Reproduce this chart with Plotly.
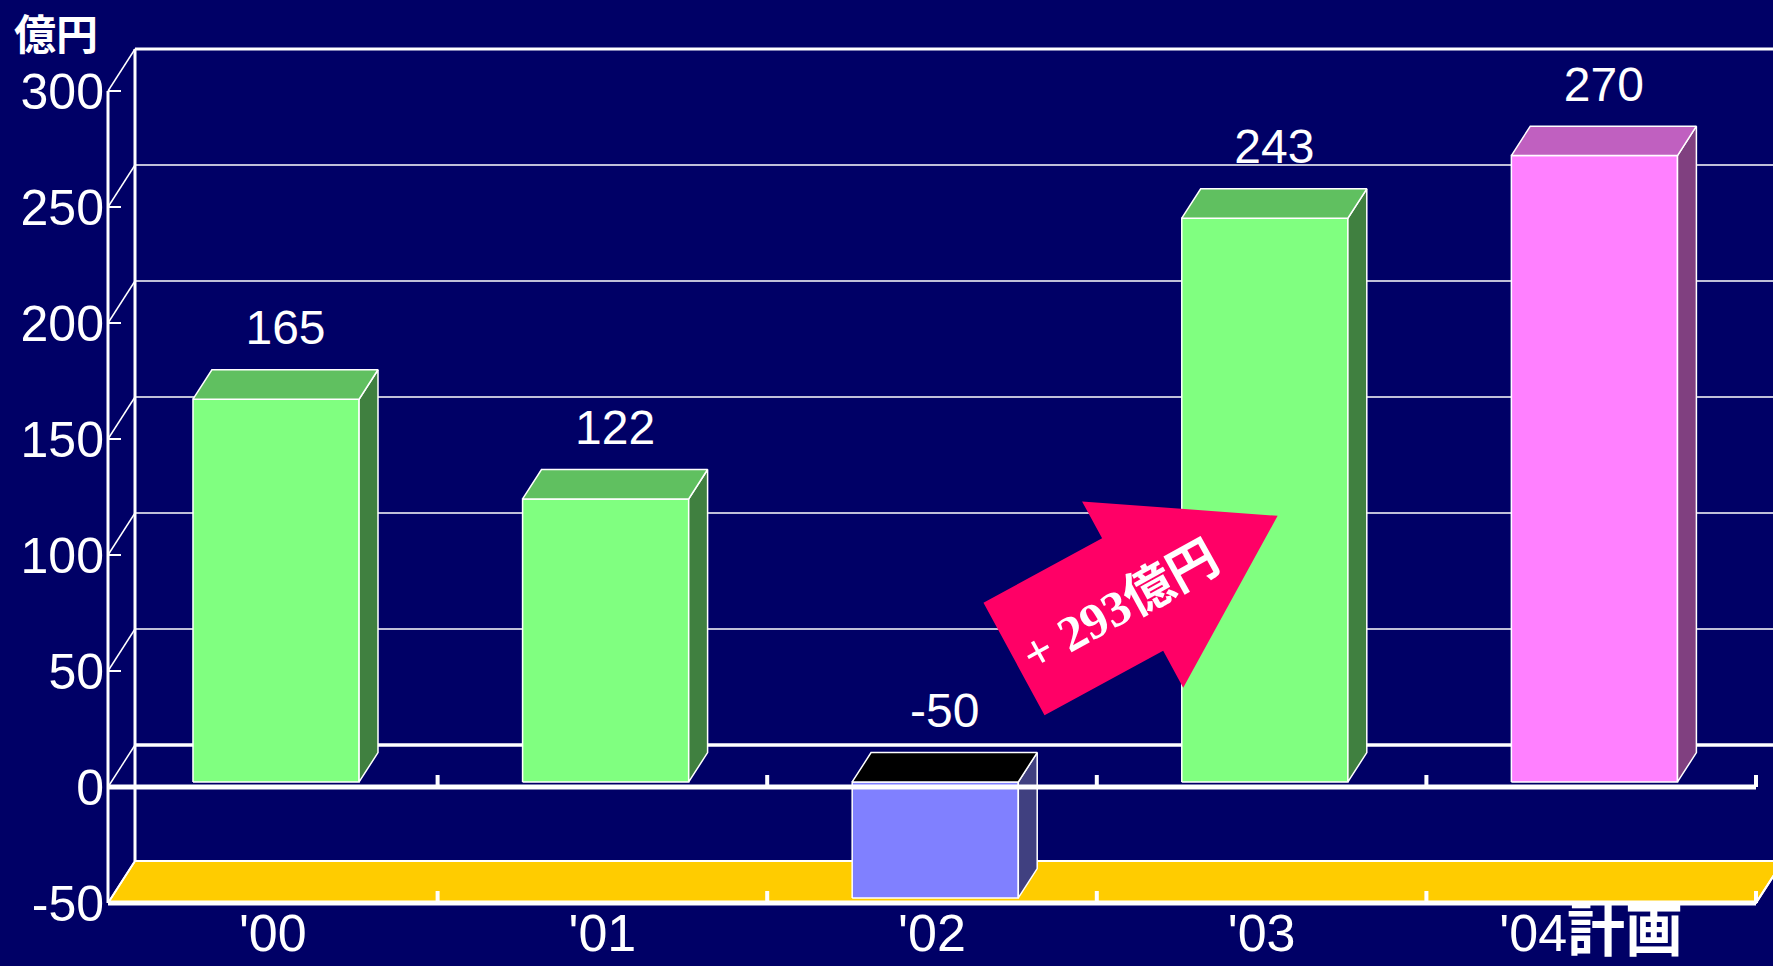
import math
import plotly.graph_objects as go

# ---- data -------------------------------------------------------------
categories = ["'00", "'01", "'02", "'03", "'04計画"]
values = [165, 122, -50, 243, 270]
y_ticks = [-50, 0, 50, 100, 150, 200, 250, 300]
unit_label = "億円"

front_colors = ["#80FF80", "#80FF80", "#8080FF", "#80FF80", "#FF80FF"]
top_colors = ["#60C060", "#60C060", "#000000", "#60C060", "#C060C0"]
side_colors = ["#408040", "#408040", "#404080", "#408040", "#804080"]

# ---- style ------------------------------------------------------------
BG = "#000066"
FLOOR = "#FFCC00"
ARROW = "#FF0066"
WHITE = "#FFFFFF"
SANS = "Liberation Sans, Arial, sans-serif"
CJK = "Noto Sans CJK JP, sans-serif"

W, H = 1773, 966
PX_PER_CAT = 329.6      # pixels per category slot
PX_PER_UNIT = 2.32      # pixels per 億円
AXIS_LEFT_PX = 108      # front value axis
ZERO_PX = 787           # front zero line

X0, X1 = -0.5, len(categories) - 0.5
Y_MIN, Y_MAX = min(y_ticks), max(y_ticks)
x_range = [X0 - AXIS_LEFT_PX / PX_PER_CAT, X0 + (W - AXIS_LEFT_PX) / PX_PER_CAT]
y_range = [-(H - ZERO_PX) / PX_PER_UNIT, ZERO_PX / PX_PER_UNIT]
floor_px = ZERO_PX - Y_MIN * PX_PER_UNIT
CAT_LABEL_PX = floor_px - 5   # baseline band for the category names

# perspective offset from the front plane to the back wall (data units)
DX = 27 / PX_PER_CAT
DY = 42 / PX_PER_UNIT

# bar geometry (fractions of the depth, half width in category units)
F0, F1 = 0.12, 0.82
HW = 0.252
LABEL_PAD = 31


def depth(x, y, f):
    return x + f * DX, y + f * DY


fig = go.Figure()


def add_line(xs, ys, width, color=WHITE):
    fig.add_trace(go.Scatter(x=xs, y=ys, mode="lines",
                             line=dict(color=color, width=width),
                             hoverinfo="skip", showlegend=False))


def add_poly(pts, fill, width=1.5, outline=WHITE):
    xs = [p[0] for p in pts] + [pts[0][0]]
    ys = [p[1] for p in pts] + [pts[0][1]]
    fig.add_trace(go.Scatter(x=xs, y=ys, mode="lines", fill="toself",
                             fillcolor=fill,
                             line=dict(color=outline, width=width),
                             hoverinfo="skip", showlegend=False))


# ---- floor ------------------------------------------------------------
add_poly([(X0, Y_MIN), (X1, Y_MIN), depth(X1, Y_MIN, 1), depth(X0, Y_MIN, 1)],
         FLOOR, width=2)

# ---- back wall gridlines ---------------------------------------------
for v in y_ticks:
    bx0, by = depth(X0, v, 1)
    bx1, _ = depth(X1, v, 1)
    w = 3.5 if v == 0 else (3 if v == Y_MAX else (2 if v == Y_MIN else 1.5))
    add_line([bx0, bx1], [by, by], w)

# ---- side wall ----------------------------------------------------------
bx, by_lo = depth(X0, Y_MIN, 1)
_, by_hi = depth(X0, Y_MAX, 1)
add_line([bx, bx], [by_lo, by_hi], 3)
for v in y_ticks:
    bx, by = depth(X0, v, 1)
    add_line([X0, bx], [v, by], 1.5)

# front value axis
add_line([X0, X0], [Y_MIN, Y_MAX], 3)

# ---- bars ---------------------------------------------------------------
for i, v in enumerate(values):
    lo, hi = min(v, 0), max(v, 0)
    xl, xr = i - HW, i + HW
    front = [depth(xl, lo, F0), depth(xr, lo, F0), depth(xr, hi, F0), depth(xl, hi, F0)]
    top = [depth(xl, hi, F0), depth(xr, hi, F0), depth(xr, hi, F1), depth(xl, hi, F1)]
    side = [depth(xr, lo, F0), depth(xr, lo, F1), depth(xr, hi, F1), depth(xr, hi, F0)]
    add_poly(front, front_colors[i])
    add_poly(side, side_colors[i])
    add_poly(top, top_colors[i])

# ---- front floor edges with category ticks -------------------------------
tick_h = 12 / PX_PER_UNIT
for base in (0, Y_MIN):
    add_line([X0, X1], [base, base], 5)
    for k in range(len(categories)):
        xb = k + 0.5
        add_line([xb, xb], [base, base + tick_h], 4)
# right edge of the floor
xr_back, yr_back = depth(X1, Y_MIN, 1)
add_line([X1, xr_back], [Y_MIN, yr_back], 2)

# ---- value labels -------------------------------------------------------
fm = (F0 + F1) / 2
fig.add_trace(go.Scatter(
    x=[i + fm * DX for i in range(len(values))],
    y=[max(v, 0) + LABEL_PAD for v in values],
    mode="text", text=[str(v) for v in values],
    textposition="middle center",
    textfont=dict(family=SANS, size=48, color=WHITE),
    hoverinfo="skip", showlegend=False))


# ---- change arrow from '02 to '03 -------------------------------------------
def to_paper(px, py):
    return px / W, 1 - py / H


tail = (1014, 659)
ang = math.radians(28.5)
u = (math.cos(ang), -math.sin(ang))
n = (math.sin(ang), math.cos(ang))
shaft_len, shaft_hw, head_len, head_hw = 135, 64, 165, 106
neck = (tail[0] + u[0] * shaft_len, tail[1] + u[1] * shaft_len)
tip = (neck[0] + u[0] * head_len, neck[1] + u[1] * head_len)


def off(p, d):
    return (p[0] + n[0] * d, p[1] + n[1] * d)


arrow_pts = [off(tail, -shaft_hw), off(neck, -shaft_hw), off(neck, -head_hw), tip,
             off(neck, head_hw), off(neck, shaft_hw), off(tail, shaft_hw)]
path = "M " + " L ".join("%.5f,%.5f" % to_paper(*p) for p in arrow_pts) + " Z"
fig.add_shape(type="path", path=path, xref="paper", yref="paper",
              fillcolor=ARROW, line=dict(width=0), layer="above")

change = values[3] - values[2]
tx, ty = to_paper(1120, 606)
fig.add_annotation(x=tx, y=ty, xref="paper", yref="paper", showarrow=False,
                   text="+ %d%s" % (change, unit_label), textangle=-29,
                   font=dict(family="Liberation Serif, Times New Roman, " + CJK,
                             size=50, color=WHITE, weight="bold"))

# unit caption
fig.add_annotation(x=12 / W, y=1 - 32 / H, xref="paper", yref="paper",
                   xanchor="left", yanchor="middle", showarrow=False,
                   text=unit_label,
                   font=dict(family=CJK, size=42, color=WHITE, weight="bold"))


def fmt_cat(c):
    head = c.rstrip("計画")
    rest = c[len(head):]
    if not rest:
        return head
    return head + '<span style="font-size:58px"><b>%s</b></span>' % rest


fig.update_layout(
    width=W, height=H, autosize=False,
    margin=dict(l=0, r=0, t=0, b=0),
    paper_bgcolor=BG, plot_bgcolor=BG,
    showlegend=False,
    xaxis=dict(range=x_range, anchor="free", position=(H - CAT_LABEL_PX) / H,
               tickvals=list(range(len(categories))),
               ticktext=[fmt_cat(c) for c in categories],
               tickfont=dict(family=SANS + ", " + CJK, size=52, color=WHITE),
               ticks="", showline=False, showgrid=False, zeroline=False,
               ticklabelstandoff=0, automargin=False),
    yaxis=dict(range=y_range, anchor="free", position=AXIS_LEFT_PX / W,
               tickvals=y_ticks, ticktext=[str(v) for v in y_ticks],
               tickfont=dict(family=SANS, size=50, color=WHITE),
               ticks="inside", ticklen=12, tickwidth=2, tickcolor=WHITE,
               showline=False, showgrid=False, zeroline=False,
               ticklabelstandoff=4, automargin=False),
)

fig.write_html("out.html")
